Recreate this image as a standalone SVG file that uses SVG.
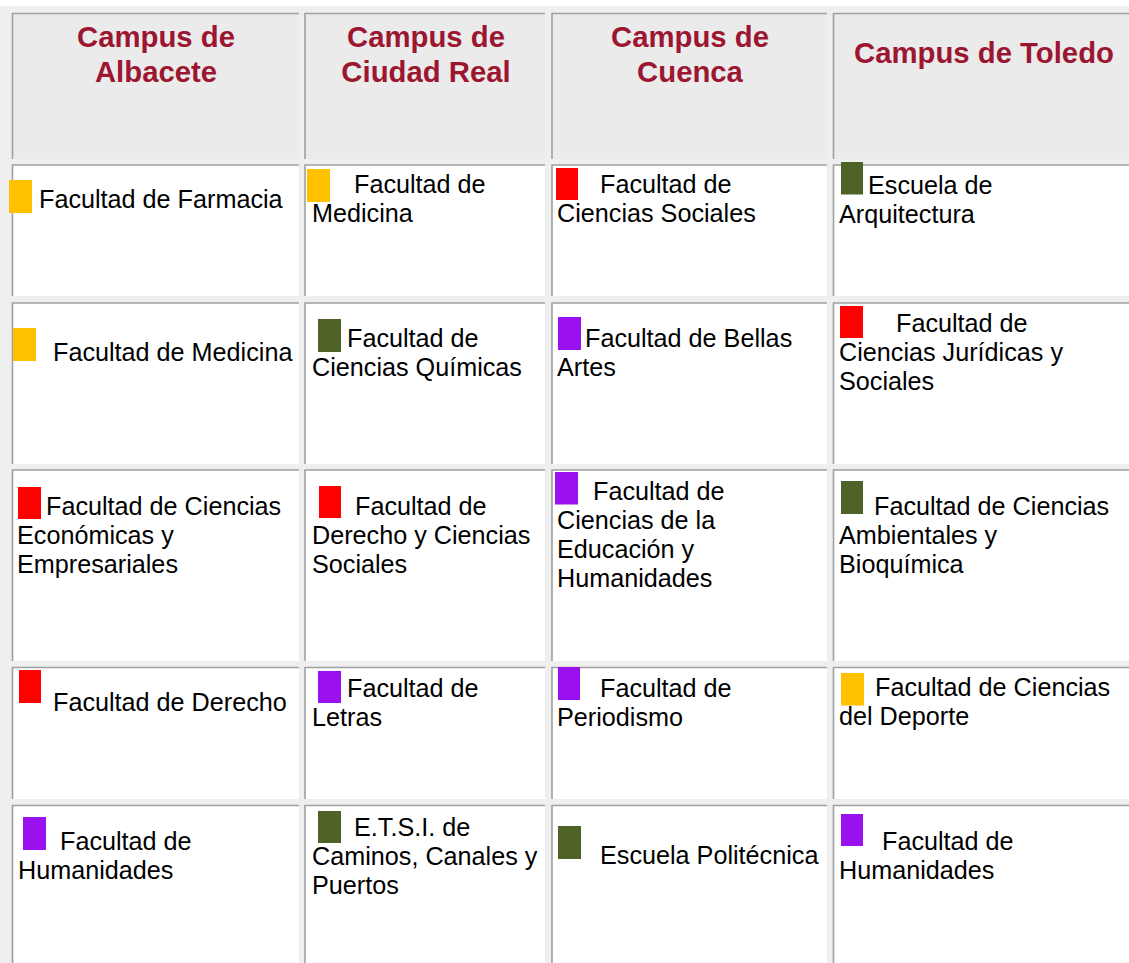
<svg xmlns="http://www.w3.org/2000/svg" width="1129" height="963" viewBox="0 0 1129 963">
<style>
.bg{fill:#efefef}
.hc{fill:#ebebeb}
.bc{fill:#ffffff}
.bd{fill:none;stroke:#a0a0a0;stroke-width:1.6}
.ht{font-family:"Liberation Sans",Arial,sans-serif;font-weight:bold;font-size:29.3px;fill:#9c1631;text-anchor:middle}
.t{font-family:"Liberation Sans",Arial,sans-serif;font-size:25.2px;fill:#000}
.y{fill:#ffc000}.r{fill:#ff0000}.g{fill:#4f6228}.p{fill:#9b10ef}
</style>
<rect x="0" y="0" width="1129" height="963" fill="#ffffff"/>
<rect class="bg" x="0" y="6" width="1129" height="957"/>

<!-- Header row -->
<g id="h1"><rect class="hc" x="12.5" y="13.5" width="286.5" height="145.5"/><path class="bd" d="M12.5 159V13.5H299"/>
<text class="ht" x="156" y="47">Campus de</text><text class="ht" x="156" y="81.5">Albacete</text></g>
<g id="h2"><rect class="hc" x="305" y="13.5" width="240" height="145.5"/><path class="bd" d="M305 159V13.5H545"/>
<text class="ht" x="426" y="47">Campus de</text><text class="ht" x="426" y="81.5">Ciudad Real</text></g>
<g id="h3"><rect class="hc" x="552" y="13.5" width="275" height="145.5"/><path class="bd" d="M552 159V13.5H827"/>
<text class="ht" x="690" y="47">Campus de</text><text class="ht" x="690" y="81.5">Cuenca</text></g>
<g id="h4"><rect class="hc" x="833.5" y="13.5" width="300" height="145.5"/><path class="bd" d="M833.5 159V13.5H1135"/>
<text class="ht" x="984" y="63">Campus de Toledo</text></g>

<!-- Row 1 -->
<g id="r1c1"><rect class="bc" x="12.5" y="165" width="286.5" height="131"/><path class="bd" d="M12.5 296V165H299"/>
<rect class="y" x="9" y="180" width="23" height="33"/><text class="t" x="39" y="208">Facultad de Farmacia</text></g>
<g id="r1c2"><rect class="bc" x="305" y="165" width="240" height="131"/><path class="bd" d="M305 296V165H545"/>
<rect class="y" x="307" y="169" width="23" height="33"/><text class="t" x="354" y="193">Facultad de</text><text class="t" x="312" y="222">Medicina</text></g>
<g id="r1c3"><rect class="bc" x="552" y="165" width="275" height="131"/><path class="bd" d="M552 296V165H827"/>
<rect class="r" x="556" y="168" width="22" height="32"/><text class="t" x="600" y="193">Facultad de</text><text class="t" x="557" y="222">Ciencias Sociales</text></g>
<g id="r1c4"><rect class="bc" x="833.5" y="165" width="300" height="131"/><path class="bd" d="M833.5 296V165H1135"/>
<rect class="g" x="841" y="162" width="22" height="32.5"/><text class="t" x="868" y="193.5">Escuela de</text><text class="t" x="839" y="222.5">Arquitectura</text></g>

<!-- Row 2 -->
<g id="r2c1"><rect class="bc" x="12.5" y="303" width="286.5" height="161"/><path class="bd" d="M12.5 464V303H299"/>
<rect class="y" x="13" y="328" width="23" height="33"/><text class="t" x="53" y="361">Facultad de Medicina</text></g>
<g id="r2c2"><rect class="bc" x="305" y="303" width="240" height="161"/><path class="bd" d="M305 464V303H545"/>
<rect class="g" x="318" y="319" width="23" height="33"/><text class="t" x="347" y="347">Facultad de</text><text class="t" x="312" y="376">Ciencias Químicas</text></g>
<g id="r2c3"><rect class="bc" x="552" y="303" width="275" height="161"/><path class="bd" d="M552 464V303H827"/>
<rect class="p" x="558" y="317" width="23" height="33"/><text class="t" x="585" y="347">Facultad de Bellas</text><text class="t" x="557" y="376">Artes</text></g>
<g id="r2c4"><rect class="bc" x="833.5" y="303" width="300" height="161"/><path class="bd" d="M833.5 464V303H1135"/>
<rect class="r" x="840" y="306" width="23" height="32"/><text class="t" x="896" y="332">Facultad de</text><text class="t" x="839" y="361">Ciencias Jurídicas y</text><text class="t" x="839" y="390">Sociales</text></g>

<!-- Row 3 -->
<g id="r3c1"><rect class="bc" x="12.5" y="470" width="286.5" height="191"/><path class="bd" d="M12.5 661V470H299"/>
<rect class="r" x="18" y="487" width="23" height="32"/><text class="t" x="46" y="515">Facultad de Ciencias</text><text class="t" x="17" y="544">Económicas y</text><text class="t" x="17" y="573">Empresariales</text></g>
<g id="r3c2"><rect class="bc" x="305" y="470" width="240" height="191"/><path class="bd" d="M305 661V470H545"/>
<rect class="r" x="319" y="486" width="22" height="32"/><text class="t" x="355" y="515">Facultad de</text><text class="t" x="312" y="544">Derecho y Ciencias</text><text class="t" x="312" y="573">Sociales</text></g>
<g id="r3c3"><rect class="bc" x="552" y="470" width="275" height="191"/><path class="bd" d="M552 661V470H827"/>
<rect class="p" x="555" y="472" width="23" height="32.5"/><text class="t" x="593" y="500">Facultad de</text><text class="t" x="557" y="529">Ciencias de la</text><text class="t" x="557" y="558">Educación y</text><text class="t" x="557" y="587">Humanidades</text></g>
<g id="r3c4"><rect class="bc" x="833.5" y="470" width="300" height="191"/><path class="bd" d="M833.5 661V470H1135"/>
<rect class="g" x="841" y="481" width="22" height="33"/><text class="t" x="874" y="515">Facultad de Ciencias</text><text class="t" x="839" y="544">Ambientales y</text><text class="t" x="839" y="573">Bioquímica</text></g>

<!-- Row 4 -->
<g id="r4c1"><rect class="bc" x="12.5" y="667.5" width="286.5" height="131.5"/><path class="bd" d="M12.5 799V667.5H299"/>
<rect class="r" x="19" y="670" width="22" height="33"/><text class="t" x="53" y="711">Facultad de Derecho</text></g>
<g id="r4c2"><rect class="bc" x="305" y="667.5" width="240" height="131.5"/><path class="bd" d="M305 799V667.5H545"/>
<rect class="p" x="318" y="671" width="23" height="32"/><text class="t" x="347" y="697">Facultad de</text><text class="t" x="312" y="726">Letras</text></g>
<g id="r4c3"><rect class="bc" x="552" y="667.5" width="275" height="131.5"/><path class="bd" d="M552 799V667.5H827"/>
<rect class="p" x="558" y="667" width="22" height="33"/><text class="t" x="600" y="697">Facultad de</text><text class="t" x="557" y="726">Periodismo</text></g>
<g id="r4c4"><rect class="bc" x="833.5" y="667.5" width="300" height="131.5"/><path class="bd" d="M833.5 799V667.5H1135"/>
<rect class="y" x="841" y="673" width="23" height="32.5"/><text class="t" x="875" y="696">Facultad de Ciencias</text><text class="t" x="839" y="725">del Deporte</text></g>

<!-- Row 5 -->
<g id="r5c1"><rect class="bc" x="12.5" y="805.5" width="286.5" height="170"/><path class="bd" d="M12.5 975V805.5H299"/>
<rect class="p" x="23" y="817" width="23" height="33"/><text class="t" x="60" y="850">Facultad de</text><text class="t" x="18" y="878.5">Humanidades</text></g>
<g id="r5c2"><rect class="bc" x="305" y="805.5" width="240" height="170"/><path class="bd" d="M305 975V805.5H545"/>
<rect class="g" x="318" y="811" width="23" height="32"/><text class="t" x="354" y="836">E.T.S.I. de</text><text class="t" x="312" y="865">Caminos, Canales y</text><text class="t" x="312" y="894">Puertos</text></g>
<g id="r5c3"><rect class="bc" x="552" y="805.5" width="275" height="170"/><path class="bd" d="M552 975V805.5H827"/>
<rect class="g" x="558" y="826" width="23" height="33"/><text class="t" x="600" y="864">Escuela Politécnica</text></g>
<g id="r5c4"><rect class="bc" x="833.5" y="805.5" width="300" height="170"/><path class="bd" d="M833.5 975V805.5H1135"/>
<rect class="p" x="841" y="814" width="22" height="32"/><text class="t" x="882" y="850">Facultad de</text><text class="t" x="839" y="879">Humanidades</text></g>

<g id="connectors"></g>
</svg>
